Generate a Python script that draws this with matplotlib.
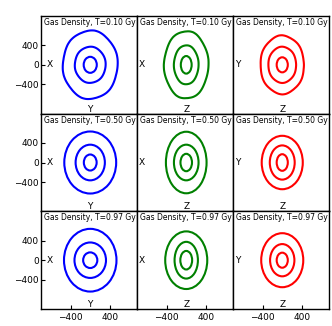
import matplotlib
matplotlib.use('Agg')
import matplotlib.pyplot as plt
import numpy as np
from matplotlib.patches import Ellipse, Polygon

# data
times = ['0.10', '0.50', '0.97']
col_colors = ['b', 'g', 'r']
left_labels = ['X', 'X', 'Y']
bottom_labels = ['Y', 'Z', 'Z']

# contour half-widths / half-heights (outer, middle, inner), per row then column
half_w = [
    [[557, 313, 133], [450, 250, 110], [443, 283, 113]],
    [[527, 297, 130], [413, 250, 117], [417, 253, 113]],
    [[533, 320, 144], [427, 237, 120], [427, 247, 113]],
]
half_h = [
    [[700, 370, 164], [690, 400, 180], [598, 369, 154]],
    [[635, 365, 164], [630, 365, 178], [547, 350, 170]],
    [[642, 363, 160], [590, 376, 190], [553, 330, 154]],
]

# radial wiggle of the early (T=0.10) outer / middle contours, 40 steps round
wiggle_outer = [
    [1.000, 1.010, 1.014, 1.008, 0.996, 0.988, 0.990, 1.002, 1.012, 1.014,
     1.004, 0.992, 0.986, 0.992, 1.004, 1.014, 1.012, 1.000, 0.988, 0.988,
     1.000, 1.012, 1.014, 1.004, 0.990, 0.986, 0.994, 1.006, 1.014, 1.010,
     0.998, 0.988, 0.988, 0.998, 1.010, 1.014, 1.006, 0.994, 0.986, 0.992],
    [1.006, 1.014, 1.010, 0.998, 0.988, 0.988, 1.000, 1.012, 1.014, 1.004,
     0.990, 0.986, 0.994, 1.006, 1.014, 1.010, 0.998, 0.988, 0.988, 1.000,
     1.012, 1.014, 1.004, 0.992, 0.986, 0.992, 1.004, 1.014, 1.012, 1.000,
     0.988, 0.990, 1.002, 1.012, 1.014, 1.004, 0.992, 0.986, 0.992, 1.000],
    [0.994, 0.988, 0.992, 1.004, 1.014, 1.012, 1.000, 0.988, 0.988, 1.000,
     1.012, 1.014, 1.004, 0.992, 0.986, 0.994, 1.006, 1.014, 1.010, 0.998,
     0.988, 0.990, 1.002, 1.012, 1.014, 1.004, 0.990, 0.986, 0.994, 1.006,
     1.014, 1.010, 0.998, 0.988, 0.988, 1.000, 1.012, 1.014, 1.004, 0.992],
]
wiggle_middle = [
    [1.000, 1.006, 1.008, 1.004, 0.998, 0.993, 0.994, 1.001, 1.007, 1.008,
     1.002, 0.995, 0.992, 0.995, 1.002, 1.008, 1.007, 1.000, 0.993, 0.993,
     1.000, 1.007, 1.008, 1.002, 0.994, 0.992, 0.996, 1.003, 1.008, 1.006,
     0.999, 0.993, 0.993, 0.999, 1.006, 1.008, 1.003, 0.996, 0.992, 0.995],
    [1.003, 1.008, 1.006, 0.999, 0.993, 0.993, 1.000, 1.007, 1.008, 1.002,
     0.994, 0.992, 0.996, 1.003, 1.008, 1.006, 0.999, 0.993, 0.993, 1.000,
     1.007, 1.008, 1.002, 0.995, 0.992, 0.995, 1.002, 1.008, 1.007, 1.000,
     0.993, 0.994, 1.001, 1.007, 1.008, 1.002, 0.995, 0.992, 0.995, 1.000],
    [0.996, 0.993, 0.995, 1.002, 1.008, 1.007, 1.000, 0.993, 0.993, 1.000,
     1.007, 1.008, 1.002, 0.995, 0.992, 0.996, 1.003, 1.008, 1.006, 0.999,
     0.993, 0.994, 1.001, 1.007, 1.008, 1.002, 0.994, 0.992, 0.996, 1.003,
     1.008, 1.006, 0.999, 0.993, 0.993, 1.000, 1.007, 1.008, 1.002, 0.995],
]

yticks = [-400, 0, 400]
xticks = [-400, 400]


def wavy_line(ax, w, h, wig, color):
    tk = np.linspace(0, 2 * np.pi, len(wig), endpoint=False)
    t = np.linspace(0, 2 * np.pi, 400, endpoint=False)
    f = np.interp(t, tk, wig, period=2 * np.pi)
    xy = np.column_stack([w * f * np.cos(t), h * f * np.sin(t)])
    ax.add_patch(Polygon(xy, closed=True, fill=False, edgecolor=color,
                         linewidth=1.5))


def main() -> None:
    fig, axes = plt.subplots(3, 3, figsize=(3.32, 3.26), dpi=100)
    fig.subplots_adjust(left=0.1235, right=0.991, bottom=0.052, top=0.951,
                        wspace=0, hspace=0)
    for i in range(3):
        for j in range(3):
            ax = axes[i, j]
            for k, (w, h) in enumerate(zip(half_w[i][j], half_h[i][j])):
                if i == 0 and k == 0:
                    wavy_line(ax, w, h, wiggle_outer[j], col_colors[j])
                elif i == 0 and k == 1:
                    wavy_line(ax, w, h, wiggle_middle[j], col_colors[j])
                else:
                    ax.add_patch(Ellipse((0, 0), 2 * w, 2 * h, fill=False,
                                         edgecolor=col_colors[j], linewidth=1.5))
            ax.set_xlim(-1000, 950)
            ax.set_ylim(-1000, 1000)
            ax.text(0.51, 0.935, 'Gas Density, T=%s Gy' % times[i],
                    transform=ax.transAxes, ha='center', va='center',
                    fontsize=5.5)
            lx = 0.094 if j == 0 else 0.052
            ax.text(lx, 0.5, left_labels[j], transform=ax.transAxes,
                    ha='center', va='center', fontsize=6.5)
            ax.text(0.513, 0.045, bottom_labels[j], transform=ax.transAxes,
                    ha='center', va='center', fontsize=6.5)
            for s in ax.spines.values():
                s.set_linewidth(1.0)
            ax.tick_params(direction='in', length=3, width=0.8,
                           labelsize=6.5, pad=1.5)
            if j == 0:
                ax.set_yticks(yticks)
            else:
                ax.set_yticks([])
            if i == 2:
                ax.set_xticks(xticks)
                ax.tick_params(axis='x', pad=3)
            else:
                ax.set_xticks([])
    fig.savefig('out.png', dpi=100)


if __name__ == "__main__":
    main()
